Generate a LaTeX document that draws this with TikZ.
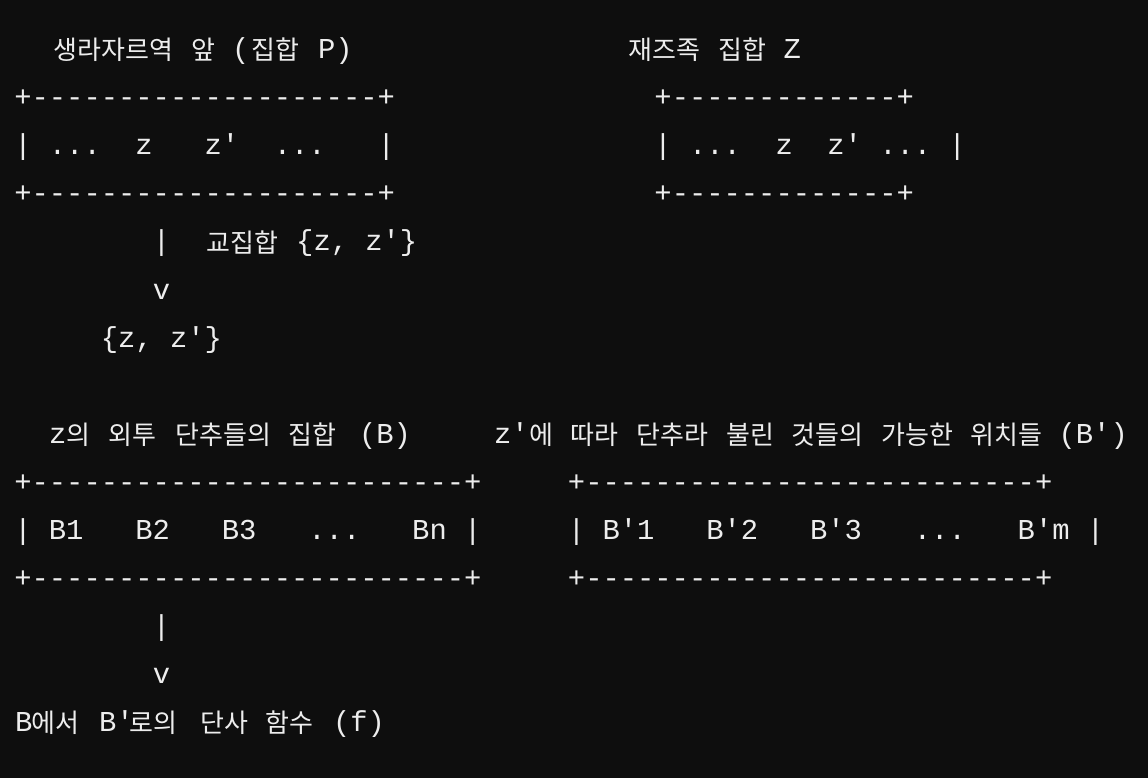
\documentclass[tikz,border=0pt]{standalone}
\usepackage{fontspec}
\newfontfamily\monofnt{Liberation Mono}[Ligatures=TeXOff]
\newfontfamily\krfnt{Noto Sans CJK KR}
\definecolor{bgc}{HTML}{0E0E0E}
\definecolor{fgc}{HTML}{EDEDED}
\tikzset{
  asc/.style={anchor=base west, inner sep=0pt, outer sep=0pt, text=fgc,
    font=\monofnt\fontsize{28.83}{30}\selectfont},
  hang/.style={anchor=base west, inner sep=0pt, outer sep=0pt, text=fgc,
    font=\krfnt\fontsize{26}{30}\selectfont},
}
\begin{document}
\begin{tikzpicture}[x=1pt,y=-1pt]
\fill[bgc] (0,0) rectangle (1148,778);
\useasboundingbox (0,0) rectangle (1148,778);
% ---- row 50
\node[hang] (t1a) at (53.5,60) {생라자르역};
\node[hang] (t1b) at (191.5,60) {앞};
\node[asc]  (t1c) at (232,59) {(};
\node[hang] (t1d) at (251.5,60) {집합};
\node[asc]  (t1e) at (318,59) {P)};
\node[hang] (t2a) at (628.5,60) {재즈족};
\node[hang] (t2b) at (718.5,60) {집합};
\node[asc]  (t2c) at (783.5,59) {Z};
% ---- boxes top
\node[asc] (p1) at ({14.35+17.3*0},107) {+--------------------+};
\node[asc] (p2) at ({14.35+17.3*0},155) {|~...~~z~~~z'~~...~~~|};
\node[asc] (p3) at ({14.35+17.3*0},203) {+--------------------+};
\node[asc] (z1) at ({14.35+17.3*37},107) {+-------------+};
\node[asc] (z2) at ({14.35+17.3*37},155) {|~...~~z~~z'~...~|};
\node[asc] (z3) at ({14.35+17.3*37},203) {+-------------+};
% ---- intersection arrow
\node[asc]  (a1) at ({14.35+17.3*8},251) {|};
\node[hang] (a1l) at (206.5,252) {교집합};
\node[asc]  (a1m) at (296.2,251) {\{z,~z'\}};
\node[asc]  (a2) at ({14.35+17.3*8},299) {v};
\node[asc]  (a3) at ({14.35+17.3*5},347) {\{z,~z'\}};
% ---- row 434
\node[asc]  (b0) at (49,443) {z};
\node[hang] (b1) at (66.5,444) {의};
\node[hang] (b2) at (108.5,444) {외투};
\node[hang] (b3) at (175.5,444) {단추들의};
\node[hang] (b4) at (288.5,444) {집합};
\node[asc]  (b5) at (359,443) {(B)};
\node[asc]  (c0) at (494,443) {z'};
\node[hang] (c1) at (529,444) {에};
\node[hang] (c2) at (570.5,444) {따라};
\node[hang] (c3) at (636.5,444) {단추라};
\node[hang] (c4) at (726.5,444) {불린};
\node[hang] (c5) at (791.5,444) {것들의};
\node[hang] (c6) at (881.5,444) {가능한};
\node[hang] (c7) at (970.5,444) {위치들};
\node[asc]  (c8) at (1058.6,443) {(B')};
% ---- boxes bottom
\node[asc] (q1) at ({14.35+17.3*0},491) {+-------------------------+};
\node[asc] (q2) at ({14.35+17.3*0},539) {|~B1~~~B2~~~B3~~~...~~~Bn~|};
\node[asc] (q3) at ({14.35+17.3*0},587) {+-------------------------+};
\node[asc] (r1) at ({14.35+17.3*32},491) {+--------------------------+};
\node[asc] (r2) at ({14.35+17.3*32},539) {|~B'1~~~B'2~~~B'3~~~...~~~B'm~|};
\node[asc] (r3) at ({14.35+17.3*32},587) {+--------------------------+};
% ---- function arrow
\node[asc] (f1) at ({14.35+17.3*8},635) {|};
\node[asc] (f2) at ({14.35+17.3*8},683) {v};
\node[asc]  (g0) at (15,731) {B};
\node[hang] (g1) at (31.5,732) {에서};
\node[asc]  (g2) at (99,731) {B'};
\node[hang] (g3) at (129.5,732) {로의};
\node[hang] (g4) at (200.5,732) {단사};
\node[hang] (g5) at (265.5,732) {함수};
\node[asc]  (g6) at (333,731) {(f)};
\end{tikzpicture}
\end{document}
